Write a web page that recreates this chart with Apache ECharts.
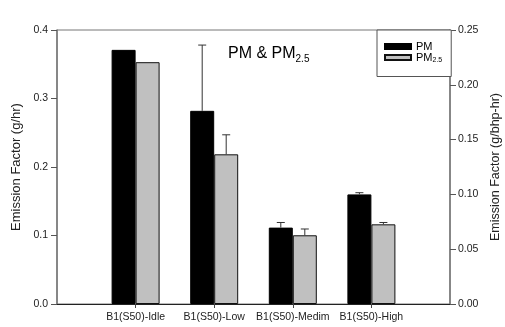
<!DOCTYPE html>
<html><head><meta charset="utf-8">
<script src="https://cdn.jsdelivr.net/npm/echarts@6/dist/echarts.min.js"></script>
<style>html,body{margin:0;padding:0;background:#fff}#c{width:505px;height:327px}</style>
</head><body><div id="c"></div>
<script>
const categories = ['', 'B1(S50)-Idle', 'B1(S50)-Low', 'B1(S50)-Medim', 'B1(S50)-High', ''];
const pmValues = [null, 0.371, 0.282, 0.1115, 0.160, null];
const pmErrors = [null, 0, 0.096, 0.0075, 0.0025, null];
const pm25Values = [null, 0.353, 0.2185, 0.1003, 0.1163, null];
const pm25Errors = [null, 0, 0.0285, 0.0092, 0.0027, null];
const leftTicks = [0, 0.1, 0.2, 0.3, 0.4];
const rightTicks = [0, 0.05, 0.10, 0.15, 0.20, 0.25];

const font = 'Liberation Sans, Arial, sans-serif';
const half = 12;
function errSeries(vals, errs, dx){
  const data = [];
  vals.forEach((v,i)=>{ if(v!=null && errs[i]>0) data.push([i, v, v+errs[i]]); });
  return {
    type:'custom', xAxisIndex:0, yAxisIndex:0, z:5, silent:true,
    data,
    renderItem(params, api){
      const a = api.coord([api.value(0), api.value(1)]);
      const b = api.coord([api.value(0), api.value(2)]);
      const x = a[0] + dx;
      return {type:'group', children:[
        {type:'line', shape:{x1:x,y1:a[1],x2:x,y2:b[1]}, style:{stroke:'#333',lineWidth:1}},
        {type:'line', shape:{x1:x-4,y1:b[1],x2:x+4,y2:b[1]}, style:{stroke:'#333',lineWidth:1}}
      ]};
    }
  };
}
const chart = echarts.init(document.getElementById('c'), null, {renderer:'canvas'});
chart.setOption({
  animation:false,
  textStyle:{fontFamily:font},
  grid:{left:57, right:55, top:30, bottom:23, containLabel:false, outerBoundsMode:'none',
        show:true, borderColor:'#777', borderWidth:1},
  title:{
    text:'{a|PM & PM}{s|2.5}', left:223, top:39,
    textStyle:{fontWeight:'normal', rich:{a:{fontSize:16,fontFamily:font,color:'#000',fontWeight:'normal'}, s:{fontSize:10,fontFamily:font,color:'#000',fontWeight:'normal',padding:[10,0,0,0]}}}
  },
  legend:{
    orient:'vertical', left:377, top:30, padding:[11,9,13,7],
    borderColor:'#555', borderWidth:1, backgroundColor:'#fff',
    itemWidth:26, itemHeight:5, itemGap:0, icon:'rect',
    data:['PM','PM2.5'],
    formatter(n){ return n==='PM' ? '{a|PM}' : '{a|PM}{s|2.5}'; },
    textStyle:{fontFamily:font, color:'#000', lineHeight:11,
      rich:{a:{fontSize:11,fontFamily:font,color:'#000'}, s:{fontSize:7,fontFamily:font,color:'#000',padding:[5,0,0,0]}}}
  },
  xAxis:{
    type:'category', data:categories, boundaryGap:false,
    axisLine:{lineStyle:{color:'#222',width:1}},
    axisTick:{inside:false, length:4, interval:(i)=>i>0&&i<5, lineStyle:{color:'#444'}},
    axisLabel:{interval:(i)=>i>0&&i<5, fontSize:10.5, color:'#222', margin:8, fontFamily:font},
    splitLine:{show:false}
  },
  yAxis:[
    {type:'value', min:leftTicks[0], max:leftTicks[leftTicks.length-1], interval:0.1,
     name:'Emission Factor (g/hr)', nameLocation:'middle', nameGap:33,
     nameTextStyle:{fontSize:13, color:'#222', fontFamily:font},
     axisLine:{show:true, lineStyle:{color:'#777',width:1.5}},
     axisTick:{show:true, length:6, lineStyle:{color:'#555'}},
     axisLabel:{fontSize:10.5, color:'#222', margin:9, formatter:v=>v.toFixed(1), fontFamily:font},
     splitLine:{show:false}},
    {type:'value', position:'right', min:rightTicks[0], max:rightTicks[rightTicks.length-1], interval:0.05,
     name:'Emission Factor (g/bhp-hr)', nameLocation:'middle', nameGap:38, nameRotate:90,
     nameTextStyle:{fontSize:12.5, color:'#222', fontFamily:font},
     axisLine:{show:true, lineStyle:{color:'#777',width:1.5}},
     axisTick:{show:true, length:6, lineStyle:{color:'#555'}},
     axisLabel:{fontSize:10.5, color:'#222', margin:8, formatter:v=>v.toFixed(2), fontFamily:font},
     splitLine:{show:false}}
  ],
  series:[
    {name:'PM', type:'bar', data:pmValues, barWidth:24, barGap:'0%',
     itemStyle:{color:'#000', borderColor:'#000', borderWidth:1}},
    {name:'PM2.5', type:'bar', data:pm25Values, barWidth:24, barGap:'0%',
     itemStyle:{color:'#c0c0c0', borderColor:'#111', borderWidth:1}},
    errSeries(pmValues, pmErrors, -half),
    errSeries(pm25Values, pm25Errors, half)
  ]
});
</script></body></html>
